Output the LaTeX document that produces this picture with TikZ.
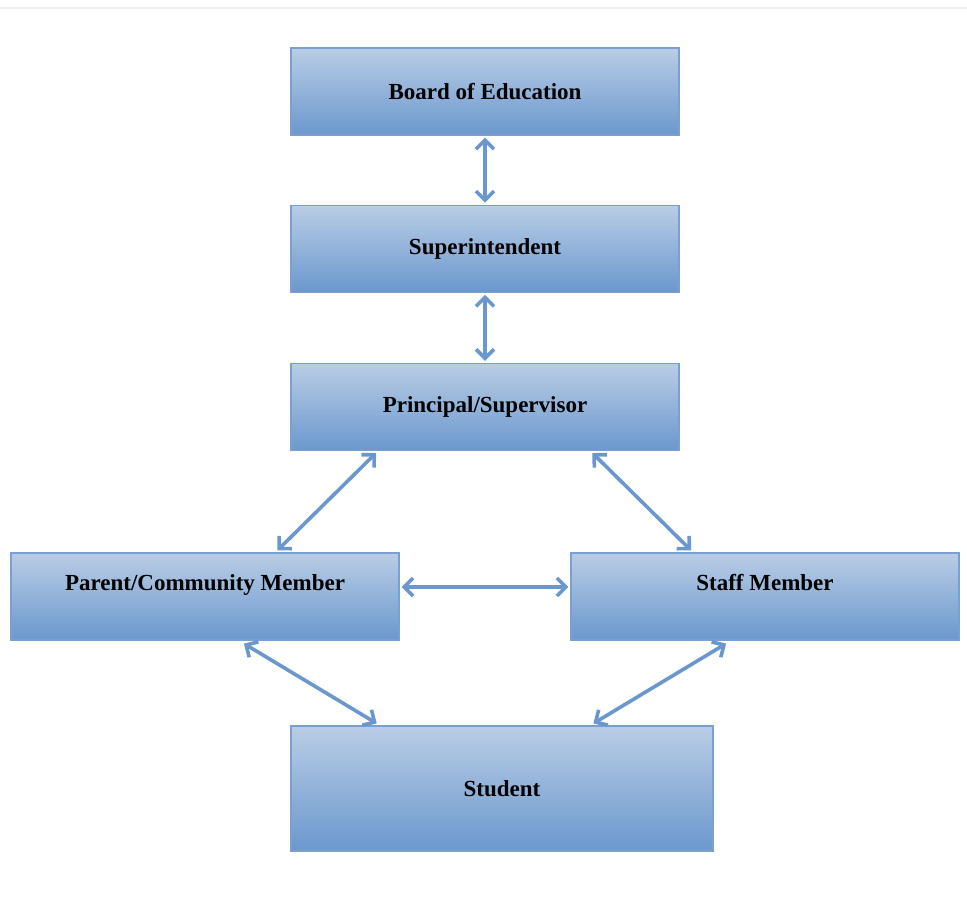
\documentclass[tikz,border=0pt]{standalone}
\usepackage{fontspec}
\setmainfont{Liberation Serif}
\usetikzlibrary{positioning, calc, arrows.meta}

\definecolor{boxtop}{HTML}{B9CDE5}
\definecolor{boxbot}{HTML}{6B98CE}
\definecolor{boxline}{HTML}{7AA0CF}
\definecolor{arrowblue}{HTML}{6A97CD}

\begin{document}
\begin{tikzpicture}[x=0.5pt,y=-0.5pt,
  every node/.style={rectangle,minimum width=194pt,minimum height=43.5pt,align=center,
    font=\fontsize{11.5}{13}\selectfont\bfseries},
  stufe/.style={draw=boxline,line width=0.6pt,top color=boxtop,bottom color=boxbot},
  pfeil/.style={draw=arrowblue,line width=1.8pt,{Straight Barb[length=4.5pt,width=9pt]}-{Straight Barb[length=4.5pt,width=9pt]}}]
  \useasboundingbox (0,0) rectangle (967,901);
  \draw[black!7,line width=1pt] (0,8) -- (967,8);
%
  \node(board)[stufe] at (485,91.5) {Board of Education};
  \node(super)[stufe,below=34.5pt of board] {Superintendent};
  \node(principal)[stufe,below=35pt of super] {Principal/Supervisor};
%
  \node(parent)[stufe,text depth=14pt] at (205,596.5) {Parent/Community Member};
  \node(staff)[stufe,text depth=14pt] at (765,596.5) {Staff Member};
  \node(student)[stufe,minimum width=211pt,minimum height=62.5pt] at (502,788.5) {Student};
%
\draw[pfeil]([yshift=-1pt]board.south)--([yshift=1pt]super.north);
\draw[pfeil]([yshift=-1pt]super.south)--([yshift=1pt]principal.north);
\draw[pfeil]($(principal.south west)!0.22!(principal.south east)+(0,2)$)--($(parent.north west)!0.686!(parent.north east)+(0,-2)$);
\draw[pfeil]($(principal.south west)!0.776!(principal.south east)+(0,2)$)--($(staff.north west)!0.31!(staff.north east)+(0,-2)$);
\draw[pfeil]([xshift=1pt,yshift=4.75pt]parent.east)--([xshift=-1pt,yshift=4.75pt]staff.west);
\draw[pfeil]($(parent.south west)!0.60!(parent.south east)+(0,3)$)--($(student.north west)!0.204!(student.north east)+(0,-2)$);
\draw[pfeil]($(staff.south west)!0.40!(staff.south east)+(0,3)$)--($(student.north west)!0.716!(student.north east)+(0,-2)$);
\end{tikzpicture}
\end{document}
